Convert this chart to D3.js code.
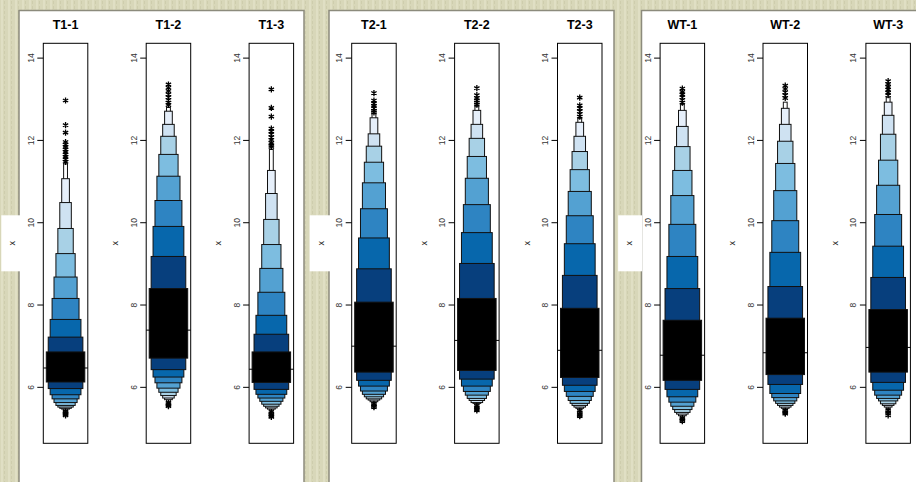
<!DOCTYPE html>
<html>
<head>
<meta charset="utf-8">
<script src="https://cdn.jsdelivr.net/npm/d3@7"></script>
<style>
  html, body { margin: 0; padding: 0; overflow: hidden; }
  svg { display: block; font-family: "Liberation Sans", Arial, sans-serif; }
</style>
</head>
<body>
<svg id="chart"></svg>
<script>
// Chart data: letter values per sample (level 1 = fourths ... level 10)
const groups = ["T1", "T2", "WT"];
const panels = ["T1-1", "T1-2", "T1-3", "T2-1", "T2-2", "T2-3", "WT-1", "WT-2", "WT-3"];
const medians = [6.47, 7.39, 6.44, 7.00, 7.14, 6.90, 6.78, 6.84, 6.97];
const upperLV = [
  [6.86, 7.22, 7.65, 8.16, 8.68, 9.25, 9.86, 10.49, 11.07, 11.43],
  [8.40, 9.18, 9.91, 10.54, 11.13, 11.66, 12.10, 12.39, 12.71, 12.80],
  [6.86, 7.29, 7.75, 8.31, 8.89, 9.47, 10.08, 10.71, 11.27, 11.78],
  [8.07, 8.88, 9.63, 10.34, 10.97, 11.47, 11.86, 12.16, 12.55, 12.65],
  [8.16, 9.01, 9.76, 10.44, 11.08, 11.61, 12.05, 12.39, 12.73, 12.82],
  [7.92, 8.72, 9.49, 10.17, 10.76, 11.29, 11.73, 12.10, 12.44, 12.53],
  [7.63, 8.40, 9.18, 9.96, 10.66, 11.27, 11.85, 12.34, 12.73, 12.87],
  [7.68, 8.45, 9.28, 10.05, 10.78, 11.44, 11.98, 12.39, 12.78, 12.93],
  [7.89, 8.67, 9.43, 10.20, 10.91, 11.52, 12.15, 12.61, 12.93, 13.05]
];
const lowerLV = [
  [6.13, 5.97, 5.82, 5.72, 5.63, 5.56, 5.52, 5.49, 5.47, 5.44],
  [6.71, 6.43, 6.25, 6.11, 5.98, 5.88, 5.80, 5.74, 5.70, 5.66],
  [6.12, 5.95, 5.83, 5.74, 5.66, 5.59, 5.54, 5.50, 5.47, 5.44],
  [6.37, 6.17, 6.03, 5.91, 5.83, 5.77, 5.72, 5.69, 5.65, 5.63],
  [6.41, 6.20, 6.03, 5.90, 5.81, 5.73, 5.68, 5.63, 5.61, 5.59],
  [6.24, 6.05, 5.90, 5.78, 5.68, 5.61, 5.56, 5.52, 5.49, 5.47],
  [6.17, 5.95, 5.77, 5.64, 5.54, 5.46, 5.39, 5.35, 5.31, 5.28],
  [6.31, 6.07, 5.85, 5.75, 5.67, 5.61, 5.56, 5.52, 5.49, 5.46],
  [6.37, 6.12, 5.93, 5.81, 5.73, 5.67, 5.60, 5.56, 5.52, 5.48]
];
const outHigh = [
  [12.97, 12.37, 12.19, 11.96, 11.90, 11.84, 11.78, 11.72, 11.66, 11.60, 11.54, 11.48],
  [13.36, 13.28, 13.20, 13.12, 13.05, 12.98, 12.92, 12.86],
  [13.24, 12.79, 12.58, 12.29, 12.22, 12.15, 12.08, 12.01, 11.94, 11.87, 11.84],
  [13.15, 12.97, 12.90, 12.84, 12.78, 12.72, 12.68],
  [13.27, 13.10, 13.03, 12.97, 12.92, 12.87],
  [13.04, 12.85, 12.78, 12.71, 12.64, 12.58],
  [13.26, 13.18, 13.11, 13.05, 12.98, 12.92],
  [13.33, 13.25, 13.17, 13.10, 13.03],
  [13.44, 13.37, 13.30, 13.23, 13.16, 13.10]
];
const outLow = [
  [5.41, 5.38, 5.36, 5.34, 5.32],
  [5.62, 5.59, 5.56, 5.54],
  [5.40, 5.36, 5.33, 5.30, 5.28],
  [5.60, 5.57, 5.54, 5.52],
  [5.55, 5.51, 5.47, 5.44],
  [5.43, 5.39, 5.35, 5.32, 5.30],
  [5.25, 5.22, 5.20, 5.18],
  [5.43, 5.40, 5.38, 5.36],
  [5.44, 5.40, 5.36, 5.32]
];
const yTicks = [6, 8, 10, 12, 14];
const boxColors = ["#000000", "#073f7d", "#0767ac", "#2e84c2", "#53a1d2",
                   "#7dbde0", "#a8d1e6", "#cfe2f2", "#e6effa", "#ffffff"];

const width = 916, height = 482;
const svg = d3.select("#chart").attr("width", width).attr("height", height);

// beige textured page background
const defs = svg.append("defs");
const pat = defs.append("pattern")
    .attr("id", "paper")
    .attr("width", 7).attr("height", 5)
    .attr("patternUnits", "userSpaceOnUse");
pat.append("rect").attr("width", 7).attr("height", 5).attr("fill", "#d8d7b9");
pat.append("rect").attr("x", 1).attr("width", 2).attr("height", 5).attr("fill", "#e0dfc4");
pat.append("rect").attr("x", 4).attr("y", 1).attr("width", 1).attr("height", 3).attr("fill", "#cecdad");
svg.append("rect").attr("width", width).attr("height", height).attr("fill", "url(#paper)");

// white group panels
const panelX = [19, 329, 641.5];
const panelW = 285;
groups.forEach((g, gi) => {
    svg.append("rect")
        .attr("x", panelX[gi])
        .attr("y", 10.5)
        .attr("width", panelW)
        .attr("height", 500)
        .attr("fill", "white")
        .attr("stroke", "#8c8b7c")
        .attr("stroke-width", 1.5);
});

// shared y scale (R style 4% padding)
const y = d3.scaleLinear().domain([4.64, 14.36]).range([443.3, 43.3]);
const yMid = (y.range()[0] + y.range()[1]) / 2;
const frameW = 44.5;
const frameLeft = (i) => 43.3 + Math.floor(i / 3) * 308.4 + (i % 3) * 102.9;
const maxBox = 38.5;
const nLevels = 10;
const boxW = d3.scaleLinear().domain([1, nLevels + 1]).range([maxBox, 0]);
const star = d3.symbol().type(d3.symbolAsterisk).size(26);

panels.forEach((name, i) => {
    const x0 = frameLeft(i);
    const cx = x0 + frameW / 2;
    const g = svg.append("g");

    // white patch behind the axis label that sits outside the panels
    if (i % 3 === 0) {
        const lx = x0 - 30;
        g.append("rect")
            .attr("x", lx - 12).attr("y", yMid - 28)
            .attr("width", 24).attr("height", 56)
            .attr("fill", "white");
    }

    // title
    g.append("text")
        .attr("x", cx).attr("y", 29.3)
        .attr("text-anchor", "middle")
        .attr("font-size", 12.5)
        .attr("font-weight", "bold")
        .text(name);

    // letter-value boxes, outermost first
    for (let k = nLevels; k >= 1; k--) {
        const w = boxW(k);
        g.append("rect")
            .attr("x", cx - w / 2)
            .attr("y", y(upperLV[i][k - 1]))
            .attr("width", w)
            .attr("height", y(lowerLV[i][k - 1]) - y(upperLV[i][k - 1]))
            .attr("fill", boxColors[k - 1])
            .attr("stroke", "#111")
            .attr("stroke-width", 1);
    }

    // outliers
    outHigh[i].concat(outLow[i]).forEach(v => {
        g.append("path")
            .attr("d", star)
            .attr("transform", `translate(${cx},${y(v)})`)
            .attr("fill", "none")
            .attr("stroke", "black")
            .attr("stroke-width", 1.3);
    });

    // median line across frame
    g.append("line")
        .attr("x1", x0).attr("x2", x0 + frameW)
        .attr("y1", y(medians[i])).attr("y2", y(medians[i]))
        .attr("stroke", "black")
        .attr("stroke-width", 1);

    // plot frame
    g.append("rect")
        .attr("x", x0).attr("y", y.range()[1])
        .attr("width", frameW)
        .attr("height", y.range()[0] - y.range()[1])
        .attr("fill", "none")
        .attr("stroke", "black")
        .attr("stroke-width", 1);

    // y axis
    yTicks.forEach(t => {
        g.append("line")
            .attr("x1", x0 - 6).attr("x2", x0)
            .attr("y1", y(t)).attr("y2", y(t))
            .attr("stroke", "black");
        g.append("text")
            .attr("transform", `translate(${x0 - 9.5},${y(t)}) rotate(-90)`)
            .attr("text-anchor", "middle")
            .attr("font-size", 8.5)
            .attr("fill", "#333")
            .text(t);
    });

    g.append("text")
        .attr("transform", `translate(${x0 - 28},${yMid}) rotate(-90)`)
        .attr("text-anchor", "middle")
        .attr("font-size", 9)
        .attr("fill", "#222")
        .text("x");
});
</script>
</body>
</html>
